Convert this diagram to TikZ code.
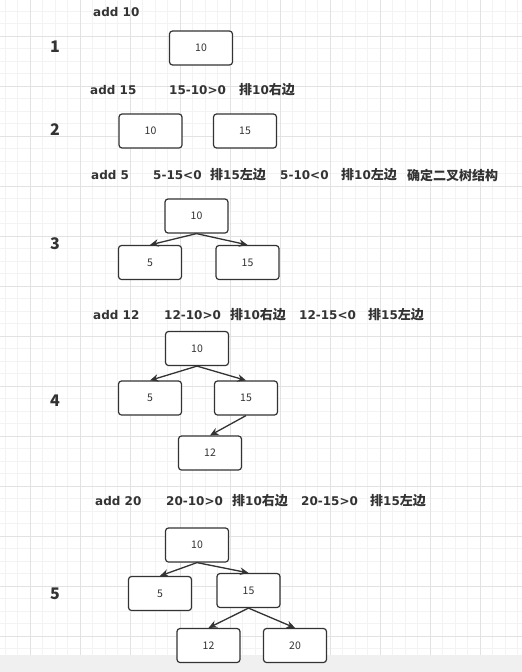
\documentclass[tikz,border=0pt]{standalone}
\usepackage{fontspec}
\setmainfont{DejaVu Sans}
\newfontfamily\zhfont{Noto Sans CJK SC}
\newcommand\zh[1]{{\zhfont\fontsize{13}{14}\selectfont #1}}
\usetikzlibrary{arrows.meta}
\definecolor{gridminor}{HTML}{F3F3F3}
\definecolor{gridmajor}{HTML}{E2E2E2}
\definecolor{bottomstrip}{HTML}{F0F0F0}
\definecolor{ink}{HTML}{333333}

\begin{document}
\begin{tikzpicture}[
  x=1pt, y=-1pt,
  treenode/.style={draw=ink, line width=1.2pt, rounded corners=3pt, fill=white,
    minimum width=63pt, minimum height=34pt, inner sep=0pt, text=ink,
    font=\zhfont\fontsize{10.5}{12}\selectfont},
  steptext/.style={anchor=west, inner sep=0pt, text=ink,
    font=\bfseries\fontsize{12}{14}\selectfont},
  stepno/.style={inner sep=0pt, text=ink, font=\zhfont\bfseries\fontsize{16}{18}\selectfont},
  link/.style={draw=ink, line width=1.3pt, -{Stealth[length=8.5pt,width=7.5pt]}},
]
\useasboundingbox (0,0) rectangle (522,672);

% background grid
\fill[white] (0,0) rectangle (522,655);
\fill[bottomstrip] (0,655) rectangle (522,672);
\foreach \x in {5,17.5,...,520} \draw[gridminor, line width=0.8pt] (\x,0) -- (\x,655);
\foreach \y in {11,23.5,...,650} \draw[gridminor, line width=0.8pt] (0,\y) -- (522,\y);
\foreach \x in {30,80,...,480} \draw[gridmajor, line width=0.8pt] (\x,0) -- (\x,655);
\foreach \y in {36,86,...,636} \draw[gridmajor, line width=0.8pt] (0,\y) -- (522,\y);

% step numbers
\node[stepno, name=no1] at (55,47) {1};
\node[stepno, name=no2] at (55,130) {2};
\node[stepno, name=no3] at (55,244) {3};
\node[stepno, name=no4] at (55,401) {4};
\node[stepno, name=no5] at (55,594) {5};

% step 1
\node[steptext, name=add10] at (93,12) {add 10};
\node[treenode, name=a10] at (201,48) {10};

% step 2
\node[steptext, name=add15] at (90,90) {add 15};
\node[steptext, name=cmp15a] at (169,90) {15-10>0};
\node[steptext, name=put15a] at (239,90) {\zh{排}10\zh{右边}};
\node[treenode, name=b10] at (150.5,131) {10};
\node[treenode, name=b15] at (245,131) {15};

% step 3
\node[steptext, name=add5] at (91,175) {add 5};
\node[steptext, name=cmp5a] at (153,175) {5-15<0};
\node[steptext, name=put5a] at (210,175) {\zh{排}15\zh{左边}};
\node[steptext, name=cmp5b] at (280,175) {5-10<0};
\node[steptext, name=put5b] at (341,175) {\zh{排}10\zh{左边}};
\node[steptext, name=fix5] at (407,175) {\zh{确定二叉树结构}};
\node[treenode, name=c10] at (196.5,216) {10};
\node[treenode, name=c5] at (150,262.5) {5};
\node[treenode, name=c15] at (247.5,262.5) {15};
\draw[link] (c10.south) -- (c5.north);
\draw[link] (c10.south) -- (c15.north);

% step 4
\node[steptext, name=add12] at (93,315) {add 12};
\node[steptext, name=cmp12a] at (164,315) {12-10>0};
\node[steptext, name=put12a] at (230,315) {\zh{排}10\zh{右边}};
\node[steptext, name=cmp12b] at (299,315) {12-15<0};
\node[steptext, name=put12b] at (368,315) {\zh{排}15\zh{左边}};
\node[treenode, name=d10] at (197,348.5) {10};
\node[treenode, name=d5] at (150,398) {5};
\node[treenode, name=d15] at (246,398) {15};
\node[treenode, name=d12] at (210,453) {12};
\draw[link] (d10.south) -- (d5.north);
\draw[link] (d10.south) -- (d15.north);
\draw[link] (d15.south) -- (d12.north);

% step 5
\node[steptext, name=add20] at (95,501) {add 20};
\node[steptext, name=cmp20a] at (166,501) {20-10>0};
\node[steptext, name=put20a] at (232,501) {\zh{排}10\zh{右边}};
\node[steptext, name=cmp20b] at (301,501) {20-15>0};
\node[steptext, name=put20b] at (370,501) {\zh{排}15\zh{左边}};
\node[treenode, name=e10] at (197,545) {10};
\node[treenode, name=e5] at (160,593.5) {5};
\node[treenode, name=e15] at (248.5,590.5) {15};
\node[treenode, name=e12] at (208.5,645.5) {12};
\node[treenode, name=e20] at (295,645.5) {20};
\draw[link] (e10.south) -- (e5.north);
\draw[link] (e10.south) -- (e15.north);
\draw[link] (e15.south) -- (e12.north);
\draw[link] (e15.south) -- (e20.north);
\end{tikzpicture}
\end{document}
